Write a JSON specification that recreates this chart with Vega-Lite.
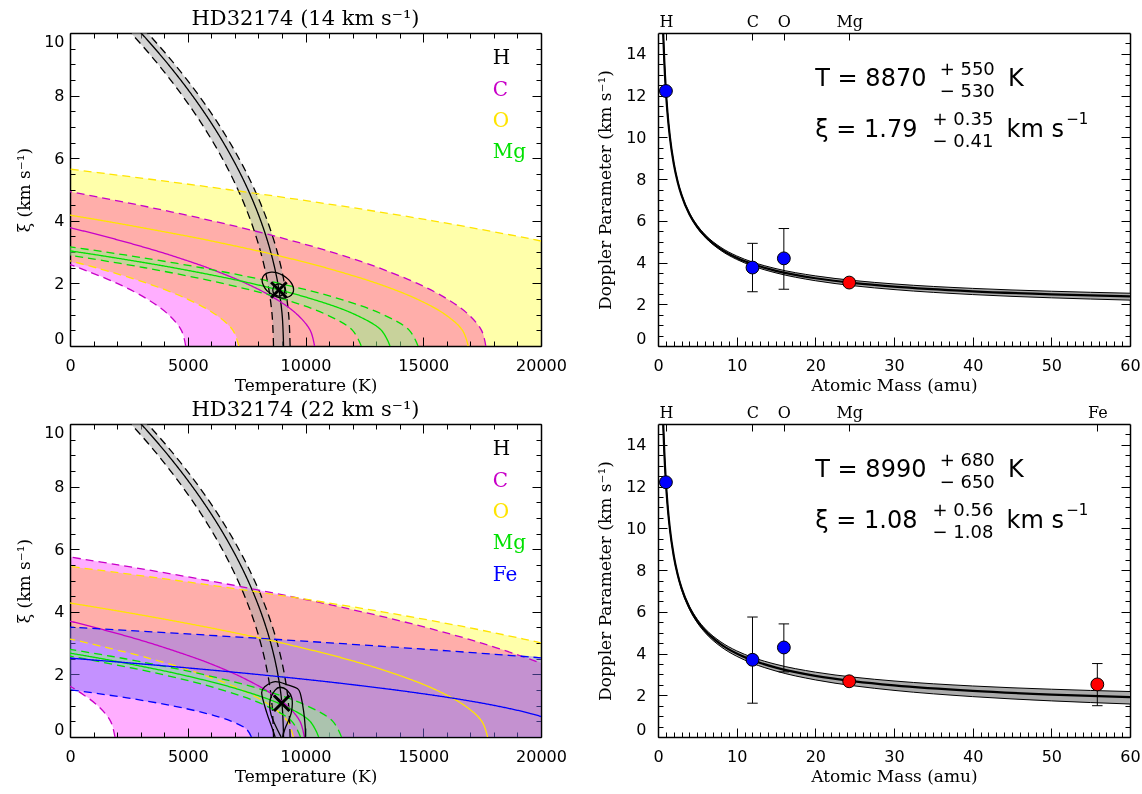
{
"$schema": "https://vega.github.io/schema/vega-lite/v6.json",
"padding": {"left": 15, "top": 7, "right": 2, "bottom": 2},
"background": "white",
"config": {
  "view": {"stroke": null},
  "axis": {"zindex": 1, "grid": false, "domain": false, "tickColor": "#000000", "tickWidth": 1, "labelFont": "DejaVu Sans", "labelFontSize": 16, "labelColor": "#000000", "labelFlush": false, "labelOverlap": false, "titleFont": "DejaVu Serif", "titleFontSize": 17, "titleFontWeight": "normal", "titleColor": "#000000", "domainColor": "#000000", "domainWidth": 1.5},
  "title": {"font": "DejaVu Serif", "fontSize": 21, "fontWeight": "normal", "color": "#000000", "offset": 4}
},
"datasets": {
  "band14": [
    {"el":"H","xi":0,"lo":8642,"c":9068,"hi":9347},{"el":"H","xi":1,"lo":8581,"c":9008,"hi":9286},{"el":"H","xi":2,"lo":8400,"c":8826,"hi":9105},{"el":"H","xi":3,"lo":8097,"c":8524,"hi":8802},{"el":"H","xi":4,"lo":7674,"c":8100,"hi":8379},{"el":"H","xi":5,"lo":7129,"c":7556,"hi":7834},{"el":"H","xi":6,"lo":6464,"c":6890,"hi":7169},{"el":"H","xi":7,"lo":5678,"c":6104,"hi":6382},{"el":"H","xi":8,"lo":4770,"c":5197,"hi":5475},{"el":"H","xi":9,"lo":3742,"c":4168,"hi":4446},{"el":"H","xi":10,"lo":2592,"c":3019,"hi":3297},{"el":"H","xi":11,"lo":1322,"c":1748,"hi":2027},
    {"el":"C","xi":0,"lo":4912,"c":10383,"hi":17656},{"el":"C","xi":0.5,"lo":4730,"c":10201,"hi":17475},{"el":"C","xi":1,"lo":4185,"c":9657,"hi":16930},{"el":"C","xi":1.5,"lo":3277,"c":8748,"hi":16021},{"el":"C","xi":2,"lo":2005,"c":7477,"hi":14750},{"el":"C","xi":2.5,"lo":371,"c":5842,"hi":13115},{"el":"C","xi":2.6,"lo":0,"c":5471,"hi":12745},{"el":"C","xi":3,"lo":-1628,"c":3844,"hi":11117},{"el":"C","xi":3.5,"lo":-3989,"c":1482,"hi":8756},{"el":"C","xi":4,"lo":-6714,"c":-1242,"hi":6031},{"el":"C","xi":4.5,"lo":-9802,"c":-4331,"hi":2943},{"el":"C","xi":4.93,"lo":-12745,"c":-7273,"hi":0},
    {"el":"O","xi":0,"lo":7162,"c":16909,"hi":30895},{"el":"O","xi":0.5,"lo":6920,"c":16667,"hi":30653},{"el":"O","xi":1,"lo":6195,"c":15941,"hi":29927},{"el":"O","xi":1.5,"lo":4985,"c":14731,"hi":28718},{"el":"O","xi":2,"lo":3291,"c":13038,"hi":27024},{"el":"O","xi":2.5,"lo":1113,"c":10860,"hi":24846},{"el":"O","xi":2.72,"lo":0,"c":9748,"hi":23734},{"el":"O","xi":3,"lo":-1549,"c":8198,"hi":22184},{"el":"O","xi":3.355,"lo":-3732,"c":6015,"hi":20000},{"el":"O","xi":3.5,"lo":-4694,"c":5052,"hi":19039},{"el":"O","xi":4,"lo":-8324,"c":1423,"hi":15409},{"el":"O","xi":4.5,"lo":-12438,"c":-2691,"hi":11295},{"el":"O","xi":5,"lo":-17035,"c":-7288,"hi":6698},{"el":"O","xi":5.5,"lo":-22117,"c":-12370,"hi":1616},{"el":"O","xi":5.65,"lo":-23733,"c":-13986,"hi":0},
    {"el":"Mg","xi":0,"lo":12366,"c":13589,"hi":14777},{"el":"Mg","xi":0.5,"lo":11998,"c":13222,"hi":14410},{"el":"Mg","xi":1,"lo":10896,"c":12119,"hi":13307},{"el":"Mg","xi":1.5,"lo":9058,"c":10281,"hi":11469},{"el":"Mg","xi":2,"lo":6484,"c":7708,"hi":8896},{"el":"Mg","xi":2.5,"lo":3176,"c":4399,"hi":5588},{"el":"Mg","xi":2.9,"lo":0,"c":1223,"hi":2411},{"el":"Mg","xi":3,"lo":-868,"c":356,"hi":1544},{"el":"Mg","xi":3.17,"lo":-2411,"c":-1188,"hi":0}
  ],
  "band22": [
    {"el":"H","xi":0,"lo":8642,"c":9068,"hi":9347},{"el":"H","xi":1,"lo":8581,"c":9008,"hi":9286},{"el":"H","xi":2,"lo":8400,"c":8826,"hi":9105},{"el":"H","xi":3,"lo":8097,"c":8524,"hi":8802},{"el":"H","xi":4,"lo":7674,"c":8100,"hi":8379},{"el":"H","xi":5,"lo":7129,"c":7556,"hi":7834},{"el":"H","xi":6,"lo":6464,"c":6890,"hi":7169},{"el":"H","xi":7,"lo":5678,"c":6104,"hi":6382},{"el":"H","xi":8,"lo":4770,"c":5197,"hi":5475},{"el":"H","xi":9,"lo":3742,"c":4168,"hi":4446},{"el":"H","xi":10,"lo":2592,"c":3019,"hi":3297},{"el":"H","xi":11,"lo":1322,"c":1748,"hi":2027},
    {"el":"C","xi":0,"lo":1907,"c":9947,"hi":24021},{"el":"C","xi":0.5,"lo":1725,"c":9766,"hi":23840},{"el":"C","xi":1,"lo":1180,"c":9221,"hi":23295},{"el":"C","xi":1.5,"lo":272,"c":8312,"hi":22386},{"el":"C","xi":1.62,"lo":0,"c":8040,"hi":22114},{"el":"C","xi":2,"lo":-1000,"c":7041,"hi":21115},{"el":"C","xi":2.353,"lo":-2115,"c":5925,"hi":20000},{"el":"C","xi":2.5,"lo":-2635,"c":5406,"hi":19480},{"el":"C","xi":3,"lo":-4633,"c":3408,"hi":17482},{"el":"C","xi":3.5,"lo":-6994,"c":1046,"hi":15121},{"el":"C","xi":4,"lo":-9719,"c":-1678,"hi":12396},{"el":"C","xi":4.5,"lo":-12807,"c":-4766,"hi":9308},{"el":"C","xi":5,"lo":-16258,"c":-8218,"hi":5856},{"el":"C","xi":5.5,"lo":-20073,"c":-12033,"hi":2042},{"el":"C","xi":5.75,"lo":-22115,"c":-14074,"hi":0},
    {"el":"O","xi":0,"lo":9483,"c":17732,"hi":28747},{"el":"O","xi":0.5,"lo":9241,"c":17490,"hi":28505},{"el":"O","xi":1,"lo":8515,"c":16764,"hi":27779},{"el":"O","xi":1.5,"lo":7305,"c":15554,"hi":26569},{"el":"O","xi":2,"lo":5611,"c":13860,"hi":24875},{"el":"O","xi":2.5,"lo":3433,"c":11683,"hi":22697},{"el":"O","xi":3,"lo":771,"c":9021,"hi":20036},{"el":"O","xi":3.13,"lo":0,"c":8249,"hi":19264},{"el":"O","xi":3.5,"lo":-2374,"c":5875,"hi":16890},{"el":"O","xi":4,"lo":-6004,"c":2246,"hi":13260},{"el":"O","xi":4.5,"lo":-10118,"c":-1868,"hi":9147},{"el":"O","xi":5,"lo":-14715,"c":-6466,"hi":4549},{"el":"O","xi":5.45,"lo":-19264,"c":-11015,"hi":0},
    {"el":"Mg","xi":0,"lo":9787,"c":10560,"hi":11528},{"el":"Mg","xi":0.5,"lo":9419,"c":10193,"hi":11160},{"el":"Mg","xi":1,"lo":8317,"c":9090,"hi":10057},{"el":"Mg","xi":1.5,"lo":6479,"c":7252,"hi":8219},{"el":"Mg","xi":2,"lo":3905,"c":4679,"hi":5646},{"el":"Mg","xi":2.5,"lo":597,"c":1370,"hi":2338},{"el":"Mg","xi":2.58,"lo":0,"c":773,"hi":1741},{"el":"Mg","xi":2.8,"lo":-1741,"c":-968,"hi":0},
    {"el":"Fe","xi":0,"lo":7703,"c":21453,"hi":41622},{"el":"Fe","xi":0.25,"lo":7492,"c":21242,"hi":41411},{"el":"Fe","xi":0.5,"lo":6858,"c":20608,"hi":40777},{"el":"Fe","xi":0.75,"lo":5802,"c":19553,"hi":39721},{"el":"Fe","xi":1,"lo":4324,"c":18074,"hi":38243},{"el":"Fe","xi":1.25,"lo":2424,"c":16174,"hi":36343},{"el":"Fe","xi":1.5,"lo":101,"c":13851,"hi":34020},{"el":"Fe","xi":1.51,"lo":0,"c":13750,"hi":33919},{"el":"Fe","xi":1.75,"lo":-2644,"c":11106,"hi":31276},{"el":"Fe","xi":2,"lo":-5811,"c":7939,"hi":28108},{"el":"Fe","xi":2.25,"lo":-9400,"c":4350,"hi":24519},{"el":"Fe","xi":2.5,"lo":-13412,"c":338,"hi":20507},{"el":"Fe","xi":2.53,"lo":-13919,"c":-169,"hi":20000},{"el":"Fe","xi":2.75,"lo":-17846,"c":-4096,"hi":16073},{"el":"Fe","xi":3,"lo":-22703,"c":-8953,"hi":11216},{"el":"Fe","xi":3.25,"lo":-27982,"c":-14232,"hi":5938},{"el":"Fe","xi":3.51,"lo":-33919,"c":-20169,"hi":0}
  ],
  "cont14": [
    {"i":0,"T":9451,"xi":1.68},{"i":1,"T":9315,"xi":1.58},{"i":2,"T":9102,"xi":1.53},{"i":3,"T":8851,"xi":1.55},{"i":4,"T":8591,"xi":1.65},{"i":5,"T":8370,"xi":1.76},{"i":6,"T":8217,"xi":1.93},{"i":7,"T":8157,"xi":2.08},{"i":8,"T":8200,"xi":2.22},{"i":9,"T":8336,"xi":2.32},{"i":10,"T":8549,"xi":2.36},{"i":11,"T":8800,"xi":2.34},{"i":12,"T":9060,"xi":2.25},{"i":13,"T":9281,"xi":2.12},{"i":14,"T":9434,"xi":1.97},{"i":15,"T":9494,"xi":1.81}
  ],
  "cont22": [
    {"id":"outer","i":0,"T":8710,"xi":0},{"id":"outer","i":1,"T":8570,"xi":0.32},{"id":"outer","i":2,"T":8357,"xi":0.77},{"id":"outer","i":3,"T":8140,"xi":1.4},{"id":"outer","i":4,"T":8285,"xi":1.61},{"id":"outer","i":5,"T":8711,"xi":1.77},{"id":"outer","i":6,"T":9281,"xi":1.66},{"id":"outer","i":7,"T":9634,"xi":1.56},{"id":"outer","i":8,"T":9775,"xi":1.4},{"id":"outer","i":9,"T":9919,"xi":0.83},{"id":"outer","i":10,"T":9987,"xi":0.32},{"id":"outer","i":11,"T":9990,"xi":0},
    {"id":"inner","i":0,"T":8966,"xi":0},{"id":"inner","i":1,"T":8541,"xi":0.7},{"id":"inner","i":2,"T":8498,"xi":1.18},{"id":"inner","i":3,"T":8711,"xi":1.5},{"id":"inner","i":4,"T":8924,"xi":1.59},{"id":"inner","i":5,"T":9209,"xi":1.5},{"id":"inner","i":6,"T":9421,"xi":1.24},{"id":"inner","i":7,"T":9392,"xi":0.76},{"id":"inner","i":8,"T":9137,"xi":0.28},{"id":"inner","i":9,"T":9030,"xi":0}
  ],
  "fit14": [
    {"A":0.66,"l":15.08,"c":15.01,"u":15.05},{"A":0.7,"l":14.65,"c":14.58,"u":14.62},{"A":0.8,"l":13.72,"c":13.65,"u":13.7},{"A":1,"l":12.29,"c":12.24,"u":12.28},{"A":1.2,"l":11.23,"c":11.2,"u":11.24},{"A":1.5,"l":10.07,"c":10.05,"u":10.09},{"A":2,"l":8.756,"c":8.747,"u":8.798},{"A":2.5,"l":7.861,"c":7.864,"u":7.919},{"A":3,"l":7.204,"c":7.216,"u":7.274},{"A":4,"l":6.286,"c":6.313,"u":6.378},{"A":5,"l":5.664,"c":5.703,"u":5.773},{"A":6,"l":5.208,"c":5.257,"u":5.332},{"A":8,"l":4.576,"c":4.64,"u":4.724},{"A":10,"l":4.15,"c":4.226,"u":4.317},{"A":12,"l":3.84,"c":3.927,"u":4.024},{"A":15,"l":3.503,"c":3.603,"u":3.707},{"A":20,"l":3.129,"c":3.245,"u":3.361},{"A":25,"l":2.882,"c":3.011,"u":3.135},{"A":30,"l":2.704,"c":2.844,"u":2.974},{"A":40,"l":2.465,"c":2.621,"u":2.761},{"A":50,"l":2.309,"c":2.477,"u":2.625},{"A":60,"l":2.199,"c":2.376,"u":2.529}
  ],
  "fit22": [
    {"A":0.66,"l":15.07,"c":15.04,"u":15.02},{"A":0.7,"l":14.63,"c":14.61,"u":14.59},{"A":0.8,"l":13.68,"c":13.67,"u":13.66},{"A":1,"l":12.24,"c":12.24,"u":12.24},{"A":1.2,"l":11.17,"c":11.18,"u":11.19},{"A":1.5,"l":9.993,"c":10.01,"u":10.03},{"A":2,"l":8.654,"c":8.687,"u":8.72},{"A":2.5,"l":7.741,"c":7.785,"u":7.828},{"A":3,"l":7.066,"c":7.12,"u":7.173},{"A":4,"l":6.12,"c":6.19,"u":6.258},{"A":5,"l":5.474,"c":5.558,"u":5.638},{"A":6,"l":4.997,"c":5.093,"u":5.184},{"A":8,"l":4.327,"c":4.443,"u":4.553},{"A":10,"l":3.87,"c":4.003,"u":4.128},{"A":12,"l":3.533,"c":3.681,"u":3.819},{"A":15,"l":3.16,"c":3.327,"u":3.482},{"A":20,"l":2.737,"c":2.932,"u":3.109},{"A":25,"l":2.448,"c":2.667,"u":2.862},{"A":30,"l":2.235,"c":2.474,"u":2.685},{"A":40,"l":1.935,"c":2.209,"u":2.445},{"A":50,"l":1.731,"c":2.034,"u":2.29},{"A":60,"l":1.581,"c":1.909,"u":2.179}
  ],
  "pts14": [
    {"el":"H","A":1.008,"b":12.22,"grp":"blue"},
    {"el":"C","A":12.011,"b":3.76,"lo":2.6,"hi":4.92,"grp":"blue"},
    {"el":"O","A":15.999,"b":4.2,"lo":2.72,"hi":5.63,"grp":"blue"},
    {"el":"Mg","A":24.305,"b":3.04,"grp":"red"}
  ],
  "pts22": [
    {"el":"H","A":1.008,"b":12.21,"grp":"blue"},
    {"el":"C","A":12.011,"b":3.7,"lo":1.62,"hi":5.75,"grp":"blue"},
    {"el":"O","A":15.999,"b":4.29,"lo":3.12,"hi":5.42,"grp":"blue"},
    {"el":"Mg","A":24.305,"b":2.67,"grp":"red"},
    {"el":"Fe","A":55.845,"b":2.52,"lo":1.5,"hi":3.52,"grp":"red"}
  ]
},
"columns": 2,
"spacing": {"row": 78, "column": 117},
"bounds": "flush",
"concat": [
  {
    "width": 471, "height": 313,
    "title": "HD32174 (14 km s⁻¹)",
    "resolve": {"scale": {"x": "independent", "y": "independent"}, "axis": {"x": "independent", "y": "independent"}},
    "layer": [
      {"data": {"name": "band14"}, "transform": [{"filter": "datum.el === 'C'"}],
       "mark": {"type": "area", "orient": "horizontal", "interpolate": "monotone", "color": "#FFAEFF", "blend": "multiply"},
       "encoding": {
         "y": {"field": "xi", "type": "quantitative", "scale": {"domain": [0, 10], "nice": false, "zero": false}, "axis": {"orient": "left", "values": [0,2,4,6,8,10], "tickSize": -9, "labelPadding": 15, "labelFlush": true, "domain": true, "title": "ξ (km s⁻¹)", "titlePadding": 10}},
         "x": {"field": "hi", "type": "quantitative", "scale": {"domain": [0, 20000], "nice": false, "zero": false, "clamp": true}, "axis": {"orient": "bottom", "values": [0,5000,10000,15000,20000], "format": "d", "tickSize": -9, "labelPadding": 20, "domain": true, "title": "Temperature (K)", "titlePadding": 4}},
         "x2": {"field": "lo"}}},
      {"data": {"name": "band14"}, "transform": [{"filter": "datum.el === 'O'"}],
       "mark": {"type": "area", "orient": "horizontal", "interpolate": "monotone", "color": "#FFFFAA", "blend": "multiply"},
       "encoding": {
         "y": {"field": "xi", "type": "quantitative", "scale": {"domain": [0, 10], "nice": false, "zero": false}, "axis": {"orient": "right", "values": [0,2,4,6,8,10], "tickSize": -9, "labels": false, "domain": true, "title": null}},
         "x": {"field": "hi", "type": "quantitative", "scale": {"domain": [0, 20000], "nice": false, "zero": false, "clamp": true}, "axis": {"orient": "top", "values": [0,5000,10000,15000,20000], "tickSize": -9, "labels": false, "domain": true, "title": null}},
         "x2": {"field": "lo"}}},
      {"data": {"name": "band14"}, "transform": [{"filter": "datum.el === 'Mg'"}],
       "mark": {"type": "area", "orient": "horizontal", "interpolate": "monotone", "clip": true, "color": "#91F68C", "opacity": 0.5},
       "encoding": {
         "y": {"field": "xi", "type": "quantitative", "scale": {"domain": [0, 10], "nice": false, "zero": false}, "axis": {"orient": "left", "values": [0.5,1,1.5,2.5,3,3.5,4.5,5,5.5,6.5,7,7.5,8.5,9,9.5], "tickSize": -5, "labels": false, "title": null}},
         "x": {"field": "hi", "type": "quantitative", "scale": {"domain": [0, 20000], "nice": false, "zero": false}, "axis": {"orient": "bottom", "values": [1000,2000,3000,4000,6000,7000,8000,9000,11000,12000,13000,14000,16000,17000,18000,19000], "tickSize": -5, "labels": false, "title": null}},
         "x2": {"field": "lo"}}},
      {"data": {"name": "band14"}, "transform": [{"filter": "datum.el === 'H'"}],
       "mark": {"type": "area", "orient": "horizontal", "interpolate": "monotone", "clip": true, "color": "#A8A8A8", "opacity": 0.5},
       "encoding": {
         "y": {"field": "xi", "type": "quantitative", "scale": {"domain": [0, 10], "nice": false, "zero": false}, "axis": {"orient": "right", "values": [0.5,1,1.5,2.5,3,3.5,4.5,5,5.5,6.5,7,7.5,8.5,9,9.5], "tickSize": -5, "labels": false, "title": null}},
         "x": {"field": "hi", "type": "quantitative", "scale": {"domain": [0, 20000], "nice": false, "zero": false}, "axis": {"orient": "top", "values": [1000,2000,3000,4000,6000,7000,8000,9000,11000,12000,13000,14000,16000,17000,18000,19000], "tickSize": -5, "labels": false, "title": null}},
         "x2": {"field": "lo"}}},
      {"data": {"name": "band14"}, "transform": [{"fold": ["lo", "c", "hi"], "as": ["kind", "T"]}],
       "mark": {"type": "line", "interpolate": "catmull-rom", "clip": true, "strokeWidth": 1.3},
       "encoding": {
         "x": {"field": "T", "type": "quantitative", "scale": {"domain": [0, 20000], "nice": false, "zero": false}, "axis": null},
         "y": {"field": "xi", "type": "quantitative", "scale": {"domain": [0, 10], "nice": false, "zero": false}, "axis": null},
         "order": {"field": "xi", "type": "quantitative"},
         "stroke": {"field": "el", "type": "nominal", "scale": {"domain": ["H","C","O","Mg","Fe"], "range": ["#000000","#C800C8","#FFE400","#00E100","#0000FF"]}, "legend": null},
         "strokeDash": {"field": "kind", "type": "nominal", "scale": {"domain": ["lo","c","hi"], "range": [[8,5],[1,0],[8,5]]}, "legend": null}}},
      {"data": {"name": "cont14"},
       "mark": {"type": "line", "interpolate": "cardinal-closed", "clip": true, "stroke": "#000000", "strokeWidth": 1.3},
       "encoding": {
         "x": {"field": "T", "type": "quantitative", "scale": {"domain": [0, 20000], "nice": false, "zero": false}, "axis": null},
         "y": {"field": "xi", "type": "quantitative", "scale": {"domain": [0, 10], "nice": false, "zero": false}, "axis": null},
         "order": {"field": "i", "type": "quantitative"}}},
      {"data": {"values": [{"T": 8870, "xi": 1.79}]},
       "mark": {"type": "point", "shape": "M-1,-1L1,1M-1,1L1,-1", "size": 240, "filled": false, "stroke": "#000000", "strokeWidth": 3, "opacity": 1},
       "encoding": {"x": {"field": "T", "type": "quantitative", "scale": {"domain": [0, 20000], "nice": false, "zero": false}, "axis": null}, "y": {"field": "xi", "type": "quantitative", "scale": {"domain": [0, 10], "nice": false, "zero": false}, "axis": null}}},
      {"data": {"values": [{"T": 8870, "xi": 1.79}]},
       "mark": {"type": "point", "shape": "circle", "size": 150, "filled": false, "stroke": "#000000", "strokeWidth": 1.3, "opacity": 1},
       "encoding": {"x": {"field": "T", "type": "quantitative", "scale": {"domain": [0, 20000], "nice": false, "zero": false}, "axis": null}, "y": {"field": "xi", "type": "quantitative", "scale": {"domain": [0, 10], "nice": false, "zero": false}, "axis": null}}},
      {"data": {"values": [{}]}, "mark": {"type": "text", "text": "H", "font": "DejaVu Serif", "fontSize": 20, "align": "left", "baseline": "alphabetic", "color": "#000000"},
       "encoding": {"x": {"datum": 17950, "type": "quantitative", "scale": {"domain": [0, 20000], "nice": false, "zero": false}, "axis": null}, "y": {"datum": 9, "type": "quantitative", "scale": {"domain": [0, 10], "nice": false, "zero": false}, "axis": null}}},
      {"data": {"values": [{}]}, "mark": {"type": "text", "text": "C", "font": "DejaVu Serif", "fontSize": 20, "align": "left", "baseline": "alphabetic", "color": "#C800C8"},
       "encoding": {"x": {"datum": 17950, "type": "quantitative", "scale": {"domain": [0, 20000], "nice": false, "zero": false}, "axis": null}, "y": {"datum": 8, "type": "quantitative", "scale": {"domain": [0, 10], "nice": false, "zero": false}, "axis": null}}},
      {"data": {"values": [{}]}, "mark": {"type": "text", "text": "O", "font": "DejaVu Serif", "fontSize": 20, "align": "left", "baseline": "alphabetic", "color": "#FFE400"},
       "encoding": {"x": {"datum": 17950, "type": "quantitative", "scale": {"domain": [0, 20000], "nice": false, "zero": false}, "axis": null}, "y": {"datum": 7, "type": "quantitative", "scale": {"domain": [0, 10], "nice": false, "zero": false}, "axis": null}}},
      {"data": {"values": [{}]}, "mark": {"type": "text", "text": "Mg", "font": "DejaVu Serif", "fontSize": 20, "align": "left", "baseline": "alphabetic", "color": "#00E100"},
       "encoding": {"x": {"datum": 17950, "type": "quantitative", "scale": {"domain": [0, 20000], "nice": false, "zero": false}, "axis": null}, "y": {"datum": 6, "type": "quantitative", "scale": {"domain": [0, 10], "nice": false, "zero": false}, "axis": null}}}
    ]
  },
  {
    "width": 472, "height": 313,
    "resolve": {"axis": {"x": "independent", "y": "independent"}},
    "layer": [
      {"data": {"name": "fit14"},
       "mark": {"type": "area", "interpolate": "monotone", "clip": true, "color": "#ABABAB", "opacity": 1},
       "encoding": {
         "x": {"field": "A", "type": "quantitative", "scale": {"domain": [0, 60], "nice": false, "zero": false}, "axis": {"orient": "bottom", "values": [0,10,20,30,40,50,60], "tickSize": -9, "labelPadding": 20, "domain": true, "title": "Atomic Mass (amu)", "titlePadding": 4}},
         "y": {"field": "u", "type": "quantitative", "scale": {"domain": [0, 15], "nice": false, "zero": false}, "axis": {"orient": "left", "values": [0,2,4,6,8,10,12,14], "tickSize": -9, "labelPadding": 21, "labelFlush": true, "domain": true, "title": "Doppler Parameter (km s⁻¹)", "titlePadding": 11}},
         "y2": {"field": "l"}}},
      {"data": {"name": "fit14"},
       "mark": {"type": "line", "interpolate": "monotone", "clip": true, "stroke": "#000000", "strokeWidth": 1},
       "encoding": {
         "x": {"field": "A", "type": "quantitative", "axis": {"orient": "top", "values": [1.008,12.011,15.999,24.305], "labelExpr": "datum.value < 2 ? 'H' : datum.value < 13 ? 'C' : datum.value < 20 ? 'O' : datum.value < 30 ? 'Mg' : 'Fe'", "tickSize": -7, "labelPadding": 11, "labelFont": "DejaVu Serif", "labelFontSize": 16, "domain": true, "title": null}},
         "y": {"field": "l", "type": "quantitative", "axis": {"orient": "right", "values": [0,2,4,6,8,10,12,14], "tickSize": -9, "labels": false, "domain": true, "title": null}}}},
      {"data": {"name": "fit14"},
       "mark": {"type": "line", "interpolate": "monotone", "clip": true, "stroke": "#000000", "strokeWidth": 1},
       "encoding": {
         "x": {"field": "A", "type": "quantitative", "axis": {"orient": "bottom", "values": [1,2,3,4,5,6,7,8,9,11,12,13,14,15,16,17,18,19,21,22,23,24,25,26,27,28,29,31,32,33,34,35,36,37,38,39,41,42,43,44,45,46,47,48,49,51,52,53,54,55,56,57,58,59], "tickSize": -5, "labels": false, "title": null}},
         "y": {"field": "u", "type": "quantitative", "axis": {"orient": "left", "values": [0.5,1,1.5,2.5,3,3.5,4.5,5,5.5,6.5,7,7.5,8.5,9,9.5,10.5,11,11.5,12.5,13,13.5,14.5], "tickSize": -5, "labels": false, "title": null}}}},
      {"data": {"name": "fit14"},
       "mark": {"type": "line", "interpolate": "monotone", "clip": true, "stroke": "#000000", "strokeWidth": 2.2},
       "encoding": {
         "x": {"field": "A", "type": "quantitative", "axis": null},
         "y": {"field": "c", "type": "quantitative", "axis": {"orient": "right", "values": [0.5,1,1.5,2.5,3,3.5,4.5,5,5.5,6.5,7,7.5,8.5,9,9.5,10.5,11,11.5,12.5,13,13.5,14.5], "tickSize": -5, "labels": false, "title": null}}}},
      {"data": {"name": "pts14"}, "transform": [{"filter": "isValid(datum.lo)"}],
       "mark": {"type": "rule", "stroke": "#000000", "strokeWidth": 1},
       "encoding": {"x": {"field": "A", "type": "quantitative", "axis": null}, "y": {"field": "lo", "type": "quantitative", "axis": null}, "y2": {"field": "hi"}}},
      {"data": {"name": "pts14"}, "transform": [{"fold": ["lo", "hi"], "as": ["end", "v"]}, {"filter": "isValid(datum.v)"}],
       "mark": {"type": "point", "shape": "stroke", "size": 110, "filled": false, "stroke": "#000000", "strokeWidth": 1, "opacity": 1},
       "encoding": {"x": {"field": "A", "type": "quantitative", "axis": null}, "y": {"field": "v", "type": "quantitative", "axis": null}}},
      {"data": {"name": "pts14"},
       "mark": {"type": "point", "shape": "circle", "size": 165, "filled": true, "stroke": "#000000", "strokeWidth": 1, "opacity": 1},
       "encoding": {"x": {"field": "A", "type": "quantitative", "axis": null}, "y": {"field": "b", "type": "quantitative", "axis": null},
         "fill": {"field": "grp", "type": "nominal", "scale": {"domain": ["blue", "red"], "range": ["#0000FF", "#FF0000"]}, "legend": null}}},
      {"data": {"values": [{}]}, "mark": {"type": "text", "text": "T  =  8870", "font": "DejaVu Sans", "fontSize": 24, "align": "left", "baseline": "alphabetic", "color": "#000000"},
       "encoding": {"x": {"datum": 20.0, "type": "quantitative", "axis": null}, "y": {"datum": 12.46, "type": "quantitative", "axis": null}}},
      {"data": {"values": [{}]}, "mark": {"type": "text", "text": "+ 550", "font": "DejaVu Sans", "fontSize": 18, "align": "left", "baseline": "alphabetic", "color": "#000000"},
       "encoding": {"x": {"datum": 35.8, "type": "quantitative", "axis": null}, "y": {"datum": 12.99, "type": "quantitative", "axis": null}}},
      {"data": {"values": [{}]}, "mark": {"type": "text", "text": "− 530", "font": "DejaVu Sans", "fontSize": 18, "align": "left", "baseline": "alphabetic", "color": "#000000"},
       "encoding": {"x": {"datum": 35.8, "type": "quantitative", "axis": null}, "y": {"datum": 11.95, "type": "quantitative", "axis": null}}},
      {"data": {"values": [{}]}, "mark": {"type": "text", "text": "K", "font": "DejaVu Sans", "fontSize": 24, "align": "left", "baseline": "alphabetic", "color": "#000000"},
       "encoding": {"x": {"datum": 44.5, "type": "quantitative", "axis": null}, "y": {"datum": 12.46, "type": "quantitative", "axis": null}}},
      {"data": {"values": [{}]}, "mark": {"type": "text", "text": "ξ  =  1.79", "font": "DejaVu Sans", "fontSize": 24, "align": "left", "baseline": "alphabetic", "color": "#000000"},
       "encoding": {"x": {"datum": 20.0, "type": "quantitative", "axis": null}, "y": {"datum": 10.03, "type": "quantitative", "axis": null}}},
      {"data": {"values": [{}]}, "mark": {"type": "text", "text": "+ 0.35", "font": "DejaVu Sans", "fontSize": 18, "align": "left", "baseline": "alphabetic", "color": "#000000"},
       "encoding": {"x": {"datum": 34.9, "type": "quantitative", "axis": null}, "y": {"datum": 10.59, "type": "quantitative", "axis": null}}},
      {"data": {"values": [{}]}, "mark": {"type": "text", "text": "− 0.41", "font": "DejaVu Sans", "fontSize": 18, "align": "left", "baseline": "alphabetic", "color": "#000000"},
       "encoding": {"x": {"datum": 34.9, "type": "quantitative", "axis": null}, "y": {"datum": 9.55, "type": "quantitative", "axis": null}}},
      {"data": {"values": [{}]}, "mark": {"type": "text", "text": "km  s", "font": "DejaVu Sans", "fontSize": 24, "align": "left", "baseline": "alphabetic", "color": "#000000"},
       "encoding": {"x": {"datum": 44.3, "type": "quantitative", "axis": null}, "y": {"datum": 10.03, "type": "quantitative", "axis": null}}},
      {"data": {"values": [{}]}, "mark": {"type": "text", "text": "−1", "font": "DejaVu Sans", "fontSize": 15, "align": "left", "baseline": "alphabetic", "color": "#000000"},
       "encoding": {"x": {"datum": 51.9, "type": "quantitative", "axis": null}, "y": {"datum": 10.62, "type": "quantitative", "axis": null}}}
    ]
  },
  {
    "width": 471, "height": 313,
    "title": "HD32174 (22 km s⁻¹)",
    "resolve": {"scale": {"x": "independent", "y": "independent"}, "axis": {"x": "independent", "y": "independent"}},
    "layer": [
      {"data": {"name": "band22"}, "transform": [{"filter": "datum.el === 'C'"}],
       "mark": {"type": "area", "orient": "horizontal", "interpolate": "monotone", "color": "#FFAEFF", "blend": "multiply"},
       "encoding": {
         "y": {"field": "xi", "type": "quantitative", "scale": {"domain": [0, 10], "nice": false, "zero": false}, "axis": {"orient": "left", "values": [0,2,4,6,8,10], "tickSize": -9, "labelPadding": 15, "labelFlush": true, "domain": true, "title": "ξ (km s⁻¹)", "titlePadding": 10}},
         "x": {"field": "hi", "type": "quantitative", "scale": {"domain": [0, 20000], "nice": false, "zero": false, "clamp": true}, "axis": {"orient": "bottom", "values": [0,5000,10000,15000,20000], "format": "d", "tickSize": -9, "labelPadding": 20, "domain": true, "title": "Temperature (K)", "titlePadding": 4}},
         "x2": {"field": "lo"}}},
      {"data": {"name": "band22"}, "transform": [{"filter": "datum.el === 'O'"}],
       "mark": {"type": "area", "orient": "horizontal", "interpolate": "monotone", "color": "#FFFFAA", "blend": "multiply"},
       "encoding": {
         "y": {"field": "xi", "type": "quantitative", "scale": {"domain": [0, 10], "nice": false, "zero": false}, "axis": {"orient": "right", "values": [0,2,4,6,8,10], "tickSize": -9, "labels": false, "domain": true, "title": null}},
         "x": {"field": "hi", "type": "quantitative", "scale": {"domain": [0, 20000], "nice": false, "zero": false, "clamp": true}, "axis": {"orient": "top", "values": [0,5000,10000,15000,20000], "tickSize": -9, "labels": false, "domain": true, "title": null}},
         "x2": {"field": "lo"}}},
      {"data": {"name": "band22"}, "transform": [{"filter": "datum.el === 'Fe'"}],
       "mark": {"type": "area", "orient": "horizontal", "interpolate": "monotone", "color": "#7C6EFF", "opacity": 0.45},
       "encoding": {
         "y": {"field": "xi", "type": "quantitative", "scale": {"domain": [0, 10], "nice": false, "zero": false}, "axis": null},
         "x": {"field": "hi", "type": "quantitative", "scale": {"domain": [0, 20000], "nice": false, "zero": false, "clamp": true}, "axis": null},
         "x2": {"field": "lo"}}},
      {"data": {"name": "band22"}, "transform": [{"filter": "datum.el === 'Mg'"}],
       "mark": {"type": "area", "orient": "horizontal", "interpolate": "monotone", "clip": true, "color": "#91F68C", "opacity": 0.5},
       "encoding": {
         "y": {"field": "xi", "type": "quantitative", "scale": {"domain": [0, 10], "nice": false, "zero": false}, "axis": {"orient": "left", "values": [0.5,1,1.5,2.5,3,3.5,4.5,5,5.5,6.5,7,7.5,8.5,9,9.5], "tickSize": -5, "labels": false, "title": null}},
         "x": {"field": "hi", "type": "quantitative", "scale": {"domain": [0, 20000], "nice": false, "zero": false}, "axis": {"orient": "bottom", "values": [1000,2000,3000,4000,6000,7000,8000,9000,11000,12000,13000,14000,16000,17000,18000,19000], "tickSize": -5, "labels": false, "title": null}},
         "x2": {"field": "lo"}}},
      {"data": {"name": "band22"}, "transform": [{"filter": "datum.el === 'H'"}],
       "mark": {"type": "area", "orient": "horizontal", "interpolate": "monotone", "clip": true, "color": "#A8A8A8", "opacity": 0.5},
       "encoding": {
         "y": {"field": "xi", "type": "quantitative", "scale": {"domain": [0, 10], "nice": false, "zero": false}, "axis": {"orient": "right", "values": [0.5,1,1.5,2.5,3,3.5,4.5,5,5.5,6.5,7,7.5,8.5,9,9.5], "tickSize": -5, "labels": false, "title": null}},
         "x": {"field": "hi", "type": "quantitative", "scale": {"domain": [0, 20000], "nice": false, "zero": false}, "axis": {"orient": "top", "values": [1000,2000,3000,4000,6000,7000,8000,9000,11000,12000,13000,14000,16000,17000,18000,19000], "tickSize": -5, "labels": false, "title": null}},
         "x2": {"field": "lo"}}},
      {"data": {"name": "band22"}, "transform": [{"fold": ["lo", "c", "hi"], "as": ["kind", "T"]}],
       "mark": {"type": "line", "interpolate": "catmull-rom", "clip": true, "strokeWidth": 1.3},
       "encoding": {
         "x": {"field": "T", "type": "quantitative", "scale": {"domain": [0, 20000], "nice": false, "zero": false}, "axis": null},
         "y": {"field": "xi", "type": "quantitative", "scale": {"domain": [0, 10], "nice": false, "zero": false}, "axis": null},
         "order": {"field": "xi", "type": "quantitative"},
         "stroke": {"field": "el", "type": "nominal", "scale": {"domain": ["H","C","O","Mg","Fe"], "range": ["#000000","#C800C8","#FFE400","#00E100","#0000FF"]}, "legend": null},
         "strokeDash": {"field": "kind", "type": "nominal", "scale": {"domain": ["lo","c","hi"], "range": [[8,5],[1,0],[8,5]]}, "legend": null}}},
      {"data": {"name": "cont22"},
       "mark": {"type": "line", "interpolate": "cardinal", "clip": true, "stroke": "#000000", "strokeWidth": 1.3},
       "encoding": {
         "x": {"field": "T", "type": "quantitative", "scale": {"domain": [0, 20000], "nice": false, "zero": false}, "axis": null},
         "y": {"field": "xi", "type": "quantitative", "scale": {"domain": [0, 10], "nice": false, "zero": false}, "axis": null},
         "detail": {"field": "id", "type": "nominal"},
         "order": {"field": "i", "type": "quantitative"}}},
      {"data": {"values": [{"T": 8990, "xi": 1.08}]},
       "mark": {"type": "point", "shape": "M-1,-1L1,1M-1,1L1,-1", "size": 240, "filled": false, "stroke": "#000000", "strokeWidth": 3, "opacity": 1},
       "encoding": {"x": {"field": "T", "type": "quantitative", "scale": {"domain": [0, 20000], "nice": false, "zero": false}, "axis": null}, "y": {"field": "xi", "type": "quantitative", "scale": {"domain": [0, 10], "nice": false, "zero": false}, "axis": null}}},
      {"data": {"values": [{}]}, "mark": {"type": "text", "text": "H", "font": "DejaVu Serif", "fontSize": 20, "align": "left", "baseline": "alphabetic", "color": "#000000"},
       "encoding": {"x": {"datum": 17950, "type": "quantitative", "scale": {"domain": [0, 20000], "nice": false, "zero": false}, "axis": null}, "y": {"datum": 9, "type": "quantitative", "scale": {"domain": [0, 10], "nice": false, "zero": false}, "axis": null}}},
      {"data": {"values": [{}]}, "mark": {"type": "text", "text": "C", "font": "DejaVu Serif", "fontSize": 20, "align": "left", "baseline": "alphabetic", "color": "#C800C8"},
       "encoding": {"x": {"datum": 17950, "type": "quantitative", "scale": {"domain": [0, 20000], "nice": false, "zero": false}, "axis": null}, "y": {"datum": 8, "type": "quantitative", "scale": {"domain": [0, 10], "nice": false, "zero": false}, "axis": null}}},
      {"data": {"values": [{}]}, "mark": {"type": "text", "text": "O", "font": "DejaVu Serif", "fontSize": 20, "align": "left", "baseline": "alphabetic", "color": "#FFE400"},
       "encoding": {"x": {"datum": 17950, "type": "quantitative", "scale": {"domain": [0, 20000], "nice": false, "zero": false}, "axis": null}, "y": {"datum": 7, "type": "quantitative", "scale": {"domain": [0, 10], "nice": false, "zero": false}, "axis": null}}},
      {"data": {"values": [{}]}, "mark": {"type": "text", "text": "Mg", "font": "DejaVu Serif", "fontSize": 20, "align": "left", "baseline": "alphabetic", "color": "#00E100"},
       "encoding": {"x": {"datum": 17950, "type": "quantitative", "scale": {"domain": [0, 20000], "nice": false, "zero": false}, "axis": null}, "y": {"datum": 6, "type": "quantitative", "scale": {"domain": [0, 10], "nice": false, "zero": false}, "axis": null}}},
      {"data": {"values": [{}]}, "mark": {"type": "text", "text": "Fe", "font": "DejaVu Serif", "fontSize": 20, "align": "left", "baseline": "alphabetic", "color": "#0000FF"},
       "encoding": {"x": {"datum": 17950, "type": "quantitative", "scale": {"domain": [0, 20000], "nice": false, "zero": false}, "axis": null}, "y": {"datum": 5, "type": "quantitative", "scale": {"domain": [0, 10], "nice": false, "zero": false}, "axis": null}}}
    ]
  },
  {
    "width": 472, "height": 313,
    "resolve": {"axis": {"x": "independent", "y": "independent"}},
    "layer": [
      {"data": {"name": "fit22"},
       "mark": {"type": "area", "interpolate": "monotone", "clip": true, "color": "#ABABAB", "opacity": 1},
       "encoding": {
         "x": {"field": "A", "type": "quantitative", "scale": {"domain": [0, 60], "nice": false, "zero": false}, "axis": {"orient": "bottom", "values": [0,10,20,30,40,50,60], "tickSize": -9, "labelPadding": 20, "domain": true, "title": "Atomic Mass (amu)", "titlePadding": 4}},
         "y": {"field": "u", "type": "quantitative", "scale": {"domain": [0, 15], "nice": false, "zero": false}, "axis": {"orient": "left", "values": [0,2,4,6,8,10,12,14], "tickSize": -9, "labelPadding": 21, "labelFlush": true, "domain": true, "title": "Doppler Parameter (km s⁻¹)", "titlePadding": 11}},
         "y2": {"field": "l"}}},
      {"data": {"name": "fit22"},
       "mark": {"type": "line", "interpolate": "monotone", "clip": true, "stroke": "#000000", "strokeWidth": 1},
       "encoding": {
         "x": {"field": "A", "type": "quantitative", "axis": {"orient": "top", "values": [1.008,12.011,15.999,24.305,55.845], "labelExpr": "datum.value < 2 ? 'H' : datum.value < 13 ? 'C' : datum.value < 20 ? 'O' : datum.value < 30 ? 'Mg' : 'Fe'", "tickSize": -7, "labelPadding": 11, "labelFont": "DejaVu Serif", "labelFontSize": 16, "domain": true, "title": null}},
         "y": {"field": "l", "type": "quantitative", "axis": {"orient": "right", "values": [0,2,4,6,8,10,12,14], "tickSize": -9, "labels": false, "domain": true, "title": null}}}},
      {"data": {"name": "fit22"},
       "mark": {"type": "line", "interpolate": "monotone", "clip": true, "stroke": "#000000", "strokeWidth": 1},
       "encoding": {
         "x": {"field": "A", "type": "quantitative", "axis": {"orient": "bottom", "values": [1,2,3,4,5,6,7,8,9,11,12,13,14,15,16,17,18,19,21,22,23,24,25,26,27,28,29,31,32,33,34,35,36,37,38,39,41,42,43,44,45,46,47,48,49,51,52,53,54,55,56,57,58,59], "tickSize": -5, "labels": false, "title": null}},
         "y": {"field": "u", "type": "quantitative", "axis": {"orient": "left", "values": [0.5,1,1.5,2.5,3,3.5,4.5,5,5.5,6.5,7,7.5,8.5,9,9.5,10.5,11,11.5,12.5,13,13.5,14.5], "tickSize": -5, "labels": false, "title": null}}}},
      {"data": {"name": "fit22"},
       "mark": {"type": "line", "interpolate": "monotone", "clip": true, "stroke": "#000000", "strokeWidth": 2.2},
       "encoding": {
         "x": {"field": "A", "type": "quantitative", "axis": null},
         "y": {"field": "c", "type": "quantitative", "axis": {"orient": "right", "values": [0.5,1,1.5,2.5,3,3.5,4.5,5,5.5,6.5,7,7.5,8.5,9,9.5,10.5,11,11.5,12.5,13,13.5,14.5], "tickSize": -5, "labels": false, "title": null}}}},
      {"data": {"name": "pts22"}, "transform": [{"filter": "isValid(datum.lo)"}],
       "mark": {"type": "rule", "stroke": "#000000", "strokeWidth": 1},
       "encoding": {"x": {"field": "A", "type": "quantitative", "axis": null}, "y": {"field": "lo", "type": "quantitative", "axis": null}, "y2": {"field": "hi"}}},
      {"data": {"name": "pts22"}, "transform": [{"fold": ["lo", "hi"], "as": ["end", "v"]}, {"filter": "isValid(datum.v)"}],
       "mark": {"type": "point", "shape": "stroke", "size": 110, "filled": false, "stroke": "#000000", "strokeWidth": 1, "opacity": 1},
       "encoding": {"x": {"field": "A", "type": "quantitative", "axis": null}, "y": {"field": "v", "type": "quantitative", "axis": null}}},
      {"data": {"name": "pts22"},
       "mark": {"type": "point", "shape": "circle", "size": 165, "filled": true, "stroke": "#000000", "strokeWidth": 1, "opacity": 1},
       "encoding": {"x": {"field": "A", "type": "quantitative", "axis": null}, "y": {"field": "b", "type": "quantitative", "axis": null},
         "fill": {"field": "grp", "type": "nominal", "scale": {"domain": ["blue", "red"], "range": ["#0000FF", "#FF0000"]}, "legend": null}}},
      {"data": {"values": [{}]}, "mark": {"type": "text", "text": "T  =  8990", "font": "DejaVu Sans", "fontSize": 24, "align": "left", "baseline": "alphabetic", "color": "#000000"},
       "encoding": {"x": {"datum": 20.0, "type": "quantitative", "axis": null}, "y": {"datum": 12.46, "type": "quantitative", "axis": null}}},
      {"data": {"values": [{}]}, "mark": {"type": "text", "text": "+ 680", "font": "DejaVu Sans", "fontSize": 18, "align": "left", "baseline": "alphabetic", "color": "#000000"},
       "encoding": {"x": {"datum": 35.8, "type": "quantitative", "axis": null}, "y": {"datum": 12.99, "type": "quantitative", "axis": null}}},
      {"data": {"values": [{}]}, "mark": {"type": "text", "text": "− 650", "font": "DejaVu Sans", "fontSize": 18, "align": "left", "baseline": "alphabetic", "color": "#000000"},
       "encoding": {"x": {"datum": 35.8, "type": "quantitative", "axis": null}, "y": {"datum": 11.95, "type": "quantitative", "axis": null}}},
      {"data": {"values": [{}]}, "mark": {"type": "text", "text": "K", "font": "DejaVu Sans", "fontSize": 24, "align": "left", "baseline": "alphabetic", "color": "#000000"},
       "encoding": {"x": {"datum": 44.5, "type": "quantitative", "axis": null}, "y": {"datum": 12.46, "type": "quantitative", "axis": null}}},
      {"data": {"values": [{}]}, "mark": {"type": "text", "text": "ξ  =  1.08", "font": "DejaVu Sans", "fontSize": 24, "align": "left", "baseline": "alphabetic", "color": "#000000"},
       "encoding": {"x": {"datum": 20.0, "type": "quantitative", "axis": null}, "y": {"datum": 10.03, "type": "quantitative", "axis": null}}},
      {"data": {"values": [{}]}, "mark": {"type": "text", "text": "+ 0.56", "font": "DejaVu Sans", "fontSize": 18, "align": "left", "baseline": "alphabetic", "color": "#000000"},
       "encoding": {"x": {"datum": 34.9, "type": "quantitative", "axis": null}, "y": {"datum": 10.59, "type": "quantitative", "axis": null}}},
      {"data": {"values": [{}]}, "mark": {"type": "text", "text": "− 1.08", "font": "DejaVu Sans", "fontSize": 18, "align": "left", "baseline": "alphabetic", "color": "#000000"},
       "encoding": {"x": {"datum": 34.9, "type": "quantitative", "axis": null}, "y": {"datum": 9.55, "type": "quantitative", "axis": null}}},
      {"data": {"values": [{}]}, "mark": {"type": "text", "text": "km  s", "font": "DejaVu Sans", "fontSize": 24, "align": "left", "baseline": "alphabetic", "color": "#000000"},
       "encoding": {"x": {"datum": 44.3, "type": "quantitative", "axis": null}, "y": {"datum": 10.03, "type": "quantitative", "axis": null}}},
      {"data": {"values": [{}]}, "mark": {"type": "text", "text": "−1", "font": "DejaVu Sans", "fontSize": 15, "align": "left", "baseline": "alphabetic", "color": "#000000"},
       "encoding": {"x": {"datum": 51.9, "type": "quantitative", "axis": null}, "y": {"datum": 10.62, "type": "quantitative", "axis": null}}}
    ]
  }
]
}
